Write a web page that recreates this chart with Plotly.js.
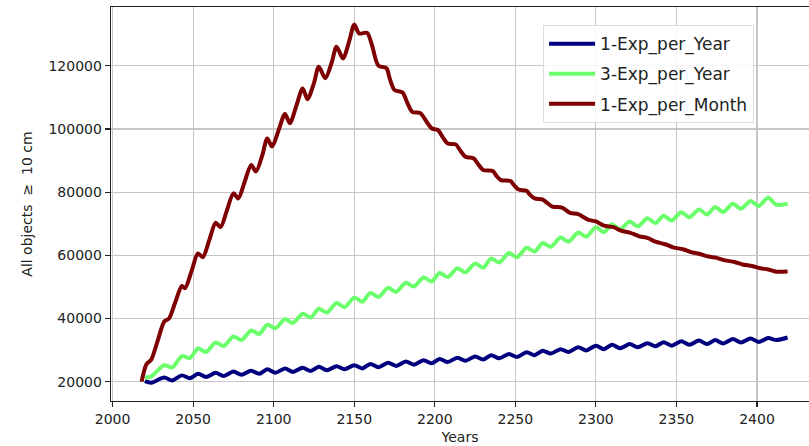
<!DOCTYPE html>
<html>
<head>
<meta charset="utf-8">
<script src="https://cdn.plot.ly/plotly-3.0.1.min.js"></script>
<style>html,body{margin:0;padding:0;background:#fff;}#chart{width:809px;height:446px;}</style>
</head>
<body>
<div id="chart"></div>
<script>
// Shared years for the yearly-explosion scenarios (cycle peaks and troughs)
const yearsYearly = [2020, 2024, 2032, 2037, 2043, 2048, 2053, 2058, 2064, 2069, 2075, 2080, 2086, 2091, 2096, 2101, 2107, 2112, 2118, 2123, 2128, 2133, 2139, 2144, 2150, 2155, 2160, 2165, 2171, 2176, 2182, 2187, 2193, 2198, 2203, 2208, 2214, 2219, 2225, 2230, 2235, 2240, 2246, 2251, 2257, 2262, 2267, 2272, 2278, 2283, 2289, 2294, 2300, 2305, 2310, 2315, 2321, 2326, 2332, 2337, 2342, 2347, 2353, 2358, 2364, 2369, 2374, 2379, 2385, 2390, 2396, 2401, 2407, 2412, 2419];

const oneExpPerYear = [20200, 19700, 21300, 20400, 22000, 21100, 22500, 21500, 22800, 21800, 23200, 22200, 23500, 22500, 23900, 22800, 24200, 23100, 24400, 23400, 24700, 23600, 24900, 23900, 25200, 24200, 25600, 24600, 26000, 25000, 26400, 25400, 26800, 25800, 27200, 26200, 27600, 26600, 28000, 27000, 28400, 27400, 28800, 27800, 29300, 28400, 29800, 28900, 30300, 29400, 30900, 29900, 31400, 30300, 31700, 30600, 31900, 30900, 32200, 31200, 32500, 31400, 32800, 31700, 33000, 31900, 33200, 32100, 33500, 32400, 33700, 32600, 33800, 33200, 34000];

const threeExpPerYear = [21300, 21700, 25200, 24500, 28100, 27500, 30500, 29400, 32400, 31300, 34300, 33200, 36200, 35100, 38000, 36900, 39800, 38600, 41500, 40300, 43100, 41900, 44900, 43600, 46600, 45300, 48100, 46800, 49700, 48400, 51300, 50100, 53000, 51700, 54400, 53100, 55900, 54600, 57400, 56100, 59000, 57700, 60700, 59400, 62400, 61200, 63900, 62700, 65600, 64300, 67200, 65900, 68900, 67300, 69800, 68200, 70700, 69100, 71700, 70200, 72500, 71000, 73600, 72000, 74500, 72900, 75300, 73700, 76300, 74700, 77200, 75600, 78200, 76000, 76300];

// Monthly-explosion scenario
const yearsMonthly = [2018, 2021, 2024, 2028, 2032, 2035, 2039, 2043, 2045, 2049, 2053, 2056, 2060, 2064, 2067, 2071, 2075, 2078, 2082, 2086, 2089, 2093, 2096, 2099, 2103, 2107, 2110, 2114, 2118, 2121, 2125, 2128, 2132, 2136, 2139, 2143, 2147, 2150, 2153, 2158, 2161, 2165, 2170, 2172, 2175, 2180, 2183, 2186, 2191, 2195, 2198, 2202, 2205, 2208, 2213, 2216, 2219, 2224, 2227, 2230, 2236, 2238, 2241, 2247, 2249, 2252, 2257, 2259, 2262, 2267, 2270, 2273, 2279, 2284, 2289, 2295, 2300, 2305, 2311, 2316, 2321, 2327, 2332, 2337, 2343, 2348, 2354, 2359, 2364, 2370, 2375, 2380, 2386, 2391, 2397, 2402, 2407, 2412, 2419];

const oneExpPerMonth = [20000, 25500, 27000, 33000, 39000, 40000, 45300, 50300, 49600, 55000, 60600, 59400, 64800, 70300, 68900, 74300, 79600, 78000, 83300, 88600, 86500, 91800, 97000, 94400, 99500, 104700, 101800, 107200, 112800, 109400, 114500, 119700, 116000, 121000, 126000, 122300, 128000, 133000, 130200, 130400, 126500, 120000, 119200, 116000, 112300, 111500, 108200, 105400, 105000, 102200, 100200, 99600, 97300, 95400, 95100, 93000, 91200, 90700, 88800, 87000, 86700, 85300, 83800, 83500, 82300, 80800, 80400, 79200, 78000, 77600, 76500, 75400, 75100, 73400, 73000, 71300, 70700, 69400, 68900, 67700, 67200, 66000, 65500, 64300, 63500, 62500, 61900, 61000, 60500, 59600, 59200, 58400, 57900, 57100, 56600, 55900, 55500, 54800, 54900];

const seriesNames = ['1-Exp_per_Year', '3-Exp_per_Year', '1-Exp_per_Month'];
const seriesColors = ['#00007f', '#6cff6c', '#7f0000'];
const xTickVals = [2000, 2050, 2100, 2150, 2200, 2250, 2300, 2350, 2400];
const yTickVals = [20000, 40000, 60000, 80000, 100000, 120000];

const font = 'DejaVu Sans, sans-serif';
const xs = [yearsYearly, yearsYearly, yearsMonthly];
const ys = [oneExpPerYear, threeExpPerYear, oneExpPerMonth];

const traces = seriesNames.map((n, i) => ({
  type: 'scatter', mode: 'lines', name: n, legendgroup: 'g' + i,
  x: xs[i], y: ys[i],
  line: {color: seriesColors[i], width: 4, shape: 'spline', smoothing: 0.8}
}));

const layout = {
  width: 809, height: 446,
  margin: {l: 111, r: 0, t: 7, b: 45},
  paper_bgcolor: '#fff', plot_bgcolor: '#fff',
  font: {family: font, size: 14, color: '#222'},
  showlegend: true,
  legend: {
    x: 0.619, y: 0.954, xanchor: 'left', yanchor: 'top',
    font: {family: font, size: 17, color: '#222'},
    bgcolor: 'rgba(255,255,255,0.85)', bordercolor: '#dcdcdc', borderwidth: 1,
    tracegroupgap: 5, traceorder: 'grouped', itemwidth: 46
  },
  xaxis: {
    range: [1999, 2432.3], tickvals: xTickVals, ticktext: xTickVals.map(String),
    showgrid: true, gridcolor: '#c6c6c6', gridwidth: 1.2, zeroline: false,
    ticks: 'outside', ticklen: 5, tickwidth: 1.2, tickcolor: '#222',
    showline: true, linecolor: '#222', linewidth: 1.3, mirror: true,
    tickfont: {family: font, size: 14, color: '#222'},
    title: {text: 'Years', font: {family: font, size: 14, color: '#222'}, standoff: 6}
  },
  yaxis: {
    range: [13892, 138575], tickvals: yTickVals, ticktext: yTickVals.map(String),
    showgrid: true, gridcolor: '#c6c6c6', gridwidth: 1.2, zeroline: false,
    ticks: 'outside', ticklen: 5, tickwidth: 1.2, tickcolor: '#222',
    showline: true, linecolor: '#222', linewidth: 1.3,
    tickfont: {family: font, size: 14, color: '#222'},
    title: {text: 'All objects \u00a0\u2265\u00a0 10 cm', font: {family: font, size: 14, color: '#222'}, standoff: 12}
  }
};

Plotly.newPlot('chart', traces, layout, {displayModeBar: false, staticPlot: true});
</script>
</body>
</html>
